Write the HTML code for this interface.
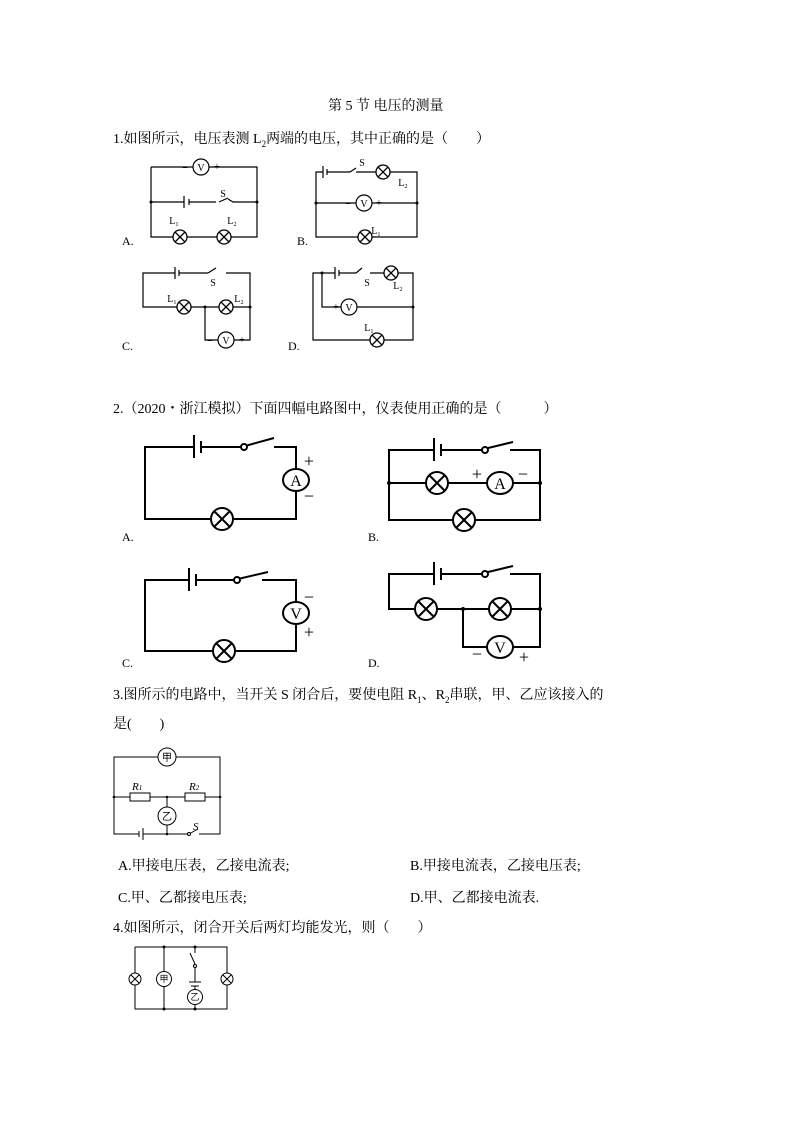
<!DOCTYPE html>
<html><head><meta charset="utf-8"><style>
body{margin:0;background:#fff}
.t{position:absolute;font-family:"Liberation Serif","Noto Serif CJK SC","Noto Sans CJK SC",serif;font-size:14px;color:#000;white-space:nowrap}
svg{position:absolute;left:0;top:0}
</style></head><body>
<div style="position:relative;width:794px;height:1123px;overflow:hidden">
<div class="t" style="left:328px;top:95px">第 5 节 电压的测量</div>
<div class="t" style="left:113px;top:128px">1.如图所示，电压表测 L<sub style="font-size:9px">2</sub>两端的电压，其中正确的是（　　）</div>
<div class="t" style="left:113px;top:398px">2.（2020・浙江模拟）下面四幅电路图中，仪表使用正确的是（　　　）</div>
<div class="t" style="left:113px;top:684px">3.图所示的电路中，当开关 S 闭合后，要使电阻 R<sub style="font-size:9px">1</sub>、R<sub style="font-size:9px">2</sub>串联，甲、乙应该接入的</div>
<div class="t" style="left:113px;top:713px">是(　　)</div>
<div class="t" style="left:118px;top:855px">A.甲接电压表，乙接电流表;</div>
<div class="t" style="left:410px;top:855px">B.甲接电流表，乙接电压表;</div>
<div class="t" style="left:118px;top:887px">C.甲、乙都接电压表;</div>
<div class="t" style="left:410px;top:887px">D.甲、乙都接电流表.</div>
<div class="t" style="left:113px;top:917px">4.如图所示，闭合开关后两灯均能发光，则（　　）</div>
<svg width="794" height="1123" font-family="Liberation Serif,serif" font-size="12">
<defs>
<g id="L"><circle r="7" fill="#fff" stroke="#000" stroke-width="1.3"/><path d="M-5-5L5 5M5-5L-5 5" stroke="#000" stroke-width="1.3"/></g>
<g id="L2"><circle r="11" fill="#fff" stroke="#000" stroke-width="2"/><path d="M-7.5-7.5L7.5 7.5M7.5-7.5L-7.5 7.5" stroke="#000" stroke-width="2"/></g>
</defs>
<g stroke="#000" stroke-width="1.2" fill="none">
<path d="M151 167H257V237H151V167M151 202H184M189 202H216M228 199L233 202H257"/>
<path d="M184 196V208M189 199V205M219 202L228 198" />
<path d="M356 172H417V237H316V172H323M327 172H350M316 203H417"/>
<path d="M323 166V178M327 169V175M350 172L356 168"/>
<path d="M226 273H250V307H143V273H175M179 273H208M205 307V340H250V307"/>
<path d="M175 267V279M179 270V276M208 273L216 268"/>
<path d="M370 273H413V340H313V273H335M339 273H356M322 273V307H413"/>
<path d="M335 267V279M339 270V276M356 273L362 268"/>
</g>
<g fill="#000"><circle cx="151" cy="202" r="1.5"/><circle cx="257" cy="202" r="1.5"/><circle cx="316" cy="203" r="1.5"/><circle cx="417" cy="203" r="1.5"/><circle cx="205" cy="307" r="1.5"/><circle cx="250" cy="307" r="1.5"/><circle cx="322" cy="273" r="1.5"/><circle cx="413" cy="307" r="1.5"/></g>
<use href="#L" x="180" y="237"/><use href="#L" x="224" y="237"/>
<use href="#L" x="383" y="172"/><use href="#L" x="365" y="237"/>
<use href="#L" x="184" y="307"/><use href="#L" x="226" y="307"/>
<use href="#L" x="391" y="273"/><use href="#L" x="377" y="340"/>
<g fill="#fff" stroke="#000" stroke-width="1.2"><circle cx="201" cy="167" r="8"/><circle cx="364" cy="203" r="8"/><circle cx="226" cy="340" r="8"/><circle cx="349" cy="307" r="8"/></g>
<g font-size="10" text-anchor="middle"><text x="201" y="171">V</text><text x="364" y="207">V</text><text x="226" y="344">V</text><text x="349" y="311">V</text>
<text x="185" y="171">−</text><text x="217" y="170">+</text><text x="348" y="207">−</text><text x="379" y="206">+</text><text x="210" y="344">−</text><text x="242" y="343">+</text><text x="336" y="310">+</text><text x="363" y="310">−</text>
<text x="223" y="197">S</text><text x="362" y="166">S</text><text x="213" y="286">S</text><text x="367" y="286">S</text>
<text x="174" y="224">L₁</text><text x="232" y="224">L₂</text><text x="403" y="186">L₂</text><text x="376" y="234">L₁</text><text x="172" y="302">L₁</text><text x="239" y="302">L₂</text><text x="398" y="289">L₂</text><text x="369" y="331">L₁</text></g>
<g font-size="12"><text x="122" y="245">A.</text><text x="297" y="245">B.</text><text x="122" y="350">C.</text><text x="288" y="350">D.</text>
<text x="122" y="541">A.</text><text x="368" y="541">B.</text><text x="122" y="667">C.</text><text x="368" y="667">D.</text></g>
<g stroke="#000" stroke-width="2" fill="none">
<path d="M274 447H296V519H145V447H194M201 447H243"/><path d="M194 435V458M201 441V453M245 446L274 438"/>
<path d="M510 450H540V520H389V450H434M441 450H482M389 483H540"/><path d="M434 438V461M441 444V456M484 449L513 442"/>
<path d="M262 580H296V651H145V580H189M196 580H236"/><path d="M189 568V591M196 574V586M238 579L268 572"/>
<path d="M510 574H540V609H389V574H434M441 574H482M463 609V647H540V609"/><path d="M434 562V585M441 568V580M484 573L513 566"/>
</g>
<g fill="#fff" stroke="#000" stroke-width="2"><circle cx="244" cy="447" r="3"/><circle cx="485" cy="450" r="3"/><circle cx="237" cy="580" r="3"/><circle cx="485" cy="574" r="3"/>
<ellipse cx="296" cy="480" rx="13" ry="11"/><ellipse cx="500" cy="483" rx="13" ry="11"/><ellipse cx="296" cy="613" rx="13" ry="11"/><ellipse cx="500" cy="647" rx="13" ry="11"/></g>
<use href="#L2" x="222" y="519"/><use href="#L2" x="437" y="483"/><use href="#L2" x="464" y="520"/><use href="#L2" x="224" y="651"/><use href="#L2" x="426" y="609"/><use href="#L2" x="500" y="609"/>
<g fill="#000"><circle cx="389" cy="483" r="2"/><circle cx="540" cy="483" r="2"/><circle cx="463" cy="609" r="2"/><circle cx="540" cy="609" r="2"/></g>
<g font-size="16" text-anchor="middle"><text x="296" y="486">A</text><text x="500" y="489">A</text><text x="296" y="619">V</text><text x="500" y="653">V</text>
<text x="309" y="467" font-size="18">+</text><text x="309" y="502" font-size="18">−</text><text x="477" y="480" font-size="18">+</text><text x="523" y="480" font-size="18">−</text>
<text x="309" y="603" font-size="18">−</text><text x="309" y="638" font-size="18">+</text><text x="477" y="660" font-size="18">−</text><text x="524" y="663" font-size="18">+</text></g>
<g stroke="#000" stroke-width="1" fill="none">
<path d="M199 834H220V757H114V834H139M143 834H189M114 797H130M150 797H185M205 797H220M167 797V834"/>
<rect x="130" y="793" width="20" height="8"/><rect x="185" y="793" width="20" height="8"/>
<path d="M143 828V840M139 831V837M189 834L198 829"/>
</g>
<g fill="#fff" stroke="#000"><circle cx="167" cy="757" r="9"/><circle cx="167" cy="816" r="9"/><circle cx="189" cy="834" r="1.5"/></g>
<g font-size="10" text-anchor="middle" font-family="Noto Sans CJK SC,sans-serif"><text x="167" y="761">甲</text><text x="167" y="820">乙</text></g>
<g font-size="11" font-style="italic"><text x="132" y="790">R<tspan font-size="7">1</tspan></text><text x="189" y="790">R<tspan font-size="7">2</tspan></text><text x="193" y="830">S</text></g>
<g fill="#000"><circle cx="114" cy="797" r="1.3"/><circle cx="220" cy="797" r="1.3"/><circle cx="167" cy="797" r="1.3"/><circle cx="167" cy="834" r="1.3"/></g>
<g stroke="#000" stroke-width="1" fill="none">
<path d="M135 947H227V1009H135V947M164 947V1009M195 947V953M195 967V982M195 1004V1009M189 982H201M191 986H199M195 986V990"/>
<path d="M195 964L190 953"/>
</g>
<g fill="#fff" stroke="#000"><circle cx="164" cy="979" r="7.5"/><circle cx="195" cy="997" r="7.5"/><circle cx="195" cy="966" r="1.5"/><circle cx="135" cy="979" r="6"/><circle cx="227" cy="979" r="6"/></g>
<path d="M131 975L139 983M139 975L131 983M223 975L231 983M231 975L223 983" stroke="#000"/>
<g fill="#000"><circle cx="164" cy="947" r="1.5"/><circle cx="195" cy="947" r="1.5"/><circle cx="164" cy="1009" r="1.5"/><circle cx="195" cy="1009" r="1.5"/></g>
<g font-size="9" text-anchor="middle" font-family="Noto Sans CJK SC,sans-serif"><text x="164" y="982">甲</text><text x="195" y="1000">乙</text></g>
</svg>
</div>
</body></html>
